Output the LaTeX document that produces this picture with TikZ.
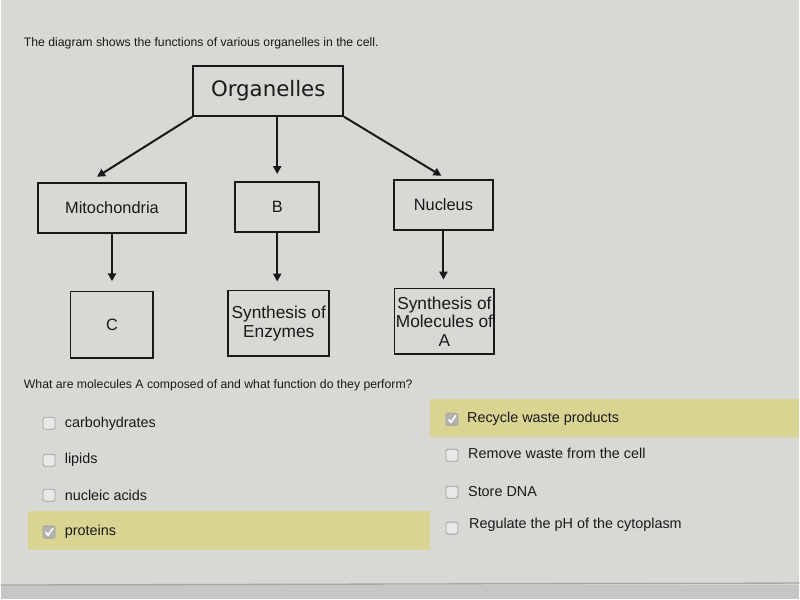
\documentclass[tikz,border=0pt]{standalone}
\usepackage{fontspec}
\setmainfont{Liberation Sans}
\newfontfamily\dejavu{DejaVu Sans}
\usetikzlibrary{arrows.meta}
\definecolor{bg}{RGB}{216,216,213}
\definecolor{hl}{RGB}{218,212,146}
\definecolor{cbfill}{RGB}{232,232,230}
\definecolor{ink}{RGB}{25,25,25}
\begin{document}
\begin{tikzpicture}[x=0.75pt,y=-0.75pt,
  box/.style={draw=ink,line width=1.4pt,fill=bg,inner sep=1pt,align=center,text=ink},
  lbl/.style={font=\fontsize{12.3}{14}\selectfont},
  arr/.style={draw=ink,line width=1.5pt,-{Triangle[length=6pt,width=6pt]}},
  cb/.style={draw=gray!75,fill=cbfill,rounded corners=1.5pt,minimum size=9pt,inner sep=0pt,line width=0.6pt},
  cbon/.style={cb,fill=gray!60},
  opt/.style={anchor=west,inner sep=0pt,font=\fontsize{10.8}{12}\selectfont,text=ink}]
\fill[bg] (0,0) rectangle (800,600);
\fill[gray!45] (0,586) rectangle (800,600);
\draw[gray!70,line width=1pt] (0,586) -- (800,584);
% highlights
\fill[hl] (27,512) rectangle (430,551);
\fill[hl] (430,400) rectangle (800,438);
% title
\node[anchor=west,inner sep=0pt,font=\fontsize{9.2}{10}\selectfont,text=ink] (title) at (23,43) {The diagram shows the functions of various organelles in the cell.};
% boxes
\node[box,minimum width=150*0.75pt,minimum height=50*0.75pt,font=\dejavu\fontsize{16}{18}\selectfont] (org) at (268,91) {Organelles};
\node[box,lbl,minimum width=149*0.75pt,minimum height=50*0.75pt] (mito) at (111.5,208) {Mitochondria};
\node[box,lbl,minimum width=84*0.75pt,minimum height=50*0.75pt] (b) at (277,207) {B};
\node[box,lbl,minimum width=99*0.75pt,minimum height=50*0.75pt] (nuc) at (443.5,205) {Nucleus};
\node[box,lbl,minimum width=83*0.75pt,minimum height=67*0.75pt] (c) at (111.5,325.5) {C};
\node[box,minimum width=101*0.75pt,minimum height=66*0.75pt,font=\fontsize{13}{14}\selectfont] (syne) at (278.5,324) {Synthesis of\\Enzymes};
\node[box,minimum width=99*0.75pt,minimum height=66*0.75pt,font=\fontsize{13}{14}\selectfont] (synm) at (444.5,322) {Synthesis of\\Molecules of\\A};
% arrows
\draw[arr] (org.south west) -- ([shift={(-15,-5)}]mito.north);
\draw[arr,shorten >=5pt] (org.south -| b.north) -- (b.north);
\draw[arr] (org.south east) -- ([shift={(-2,-3)}]nuc.north);
\draw[arr,shorten >=7pt] (mito.south) -- (c.north);
\draw[arr,shorten >=6pt] (b.south) -- (b.south |- syne.north);
\draw[arr,shorten >=6pt] (nuc.south) -- (nuc.south |- synm.north);
% question
\node[anchor=west,inner sep=0pt,font=\fontsize{9.2}{11}\selectfont,text=ink] (q) at (23,386) {What are molecules A composed of and what function do they perform?};
% left options
\node[cb] (cb1) at (48.5,424) {};
\node[opt] (o1) at (64,424) {carbohydrates};
\node[cb] (cb2) at (48.5,461) {};
\node[opt] (o2) at (64,461) {lipids};
\node[cb] (cb3) at (48.5,496) {};
\node[opt] (o3) at (64,496) {nucleic acids};
\node[cbon] (cb4) at (48.5,533) {};
\draw[white,line width=1.2pt] ([shift={(-3.5,0)}]cb4.center) -- ([shift={(-1,3)}]cb4.center) -- ([shift={(4,-4)}]cb4.center);
\node[opt] (o4) at (64,533) {proteins};
% right options
\node[cbon] (cb5) at (452,420) {};
\draw[white,line width=1.2pt] ([shift={(-3.5,0)}]cb5.center) -- ([shift={(-1,3)}]cb5.center) -- ([shift={(4,-4)}]cb5.center);
\node[opt] (o5) at (467,419) {Recycle waste products};
\node[cb] (cb6) at (452,456) {};
\node[opt] (o6) at (468,454) {Remove waste from the cell};
\node[cb] (cb7) at (452,493) {};
\node[opt] (o7) at (468,492) {Store DNA};
\node[cb] (cb8) at (452,529) {};
\node[opt] (o8) at (469,526) {Regulate the pH of the cytoplasm};
\end{tikzpicture}
\end{document}
